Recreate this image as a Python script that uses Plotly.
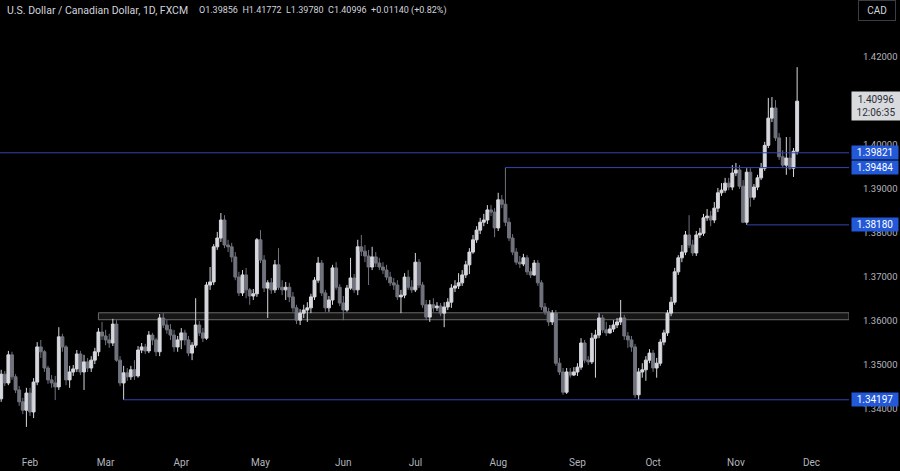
import pandas as pd
import plotly.graph_objects as go

# ---------------- data (USD/CAD daily, FXCM) ----------------
start_date = "2024-01-22"
end_date = "2024-11-26"

opens = [
    1.3422, 1.3478, 1.3458, 1.3522, 1.3472, 1.3442, 1.3415, 1.3396, 1.3435, 1.3392,
    1.3460, 1.3540, 1.3529, 1.3492, 1.3465, 1.3458, 1.3449, 1.3563, 1.3540, 1.3465,
    1.3483, 1.3490, 1.3524, 1.3483, 1.3506, 1.3492, 1.3510, 1.3529, 1.3574, 1.3565,
    1.3556, 1.3549, 1.3592, 1.3510, 1.3458, 1.3481, 1.3472, 1.3488, 1.3474, 1.3533,
    1.3540, 1.3531, 1.3567, 1.3556, 1.3529, 1.3606, 1.3590, 1.3579, 1.3567, 1.3540,
    1.3556, 1.3572, 1.3556, 1.3526, 1.3544, 1.3590, 1.3572, 1.3560, 1.3681, 1.3688,
    1.3768, 1.3788, 1.3829, 1.3772, 1.3768, 1.3745, 1.3699, 1.3663, 1.3704, 1.3670,
    1.3656, 1.3661, 1.3784, 1.3738, 1.3674, 1.3686, 1.3670, 1.3727, 1.3676, 1.3670,
    1.3676, 1.3654, 1.3629, 1.3601, 1.3617, 1.3624, 1.3629, 1.3654, 1.3692, 1.3731,
    1.3663, 1.3629, 1.3647, 1.3720, 1.3676, 1.3640, 1.3624, 1.3674, 1.3697, 1.3670,
    1.3768, 1.3758, 1.3747, 1.3722, 1.3745, 1.3731, 1.3722, 1.3715, 1.3699, 1.3686,
    1.3681, 1.3654, 1.3658, 1.3699, 1.3676, 1.3670, 1.3733, 1.3681, 1.3636, 1.3608,
    1.3636, 1.3629, 1.3633, 1.3617, 1.3631, 1.3642, 1.3674, 1.3679, 1.3686, 1.3704,
    1.3727, 1.3756, 1.3784, 1.3806, 1.3824, 1.3829, 1.3852, 1.3847, 1.3811, 1.3875,
    1.3865, 1.3824, 1.3788, 1.3756, 1.3733, 1.3729, 1.3743, 1.3711, 1.3704, 1.3731,
    1.3686, 1.3631, 1.3620, 1.3597, 1.3617, 1.3503, 1.3483, 1.3437, 1.3483, 1.3476,
    1.3483, 1.3494, 1.3549, 1.3510, 1.3506, 1.3560, 1.3567, 1.3606, 1.3579, 1.3572,
    1.3581, 1.3590, 1.3597, 1.3606, 1.3565, 1.3556, 1.3540, 1.3431, 1.3483, 1.3488,
    1.3510, 1.3526, 1.3492, 1.3503, 1.3551, 1.3572, 1.3617, 1.3642, 1.3711, 1.3743,
    1.3756, 1.3795, 1.3772, 1.3754, 1.3795, 1.3799, 1.3834, 1.3838, 1.3829, 1.3856,
    1.3891, 1.3897, 1.3913, 1.3904, 1.3936, 1.3943, 1.3906, 1.3824, 1.3938, 1.3881,
    1.3904, 1.3925, 1.3947, 1.3999, 1.4061, 1.4084, 1.4016, 1.3973, 1.3954, 1.3970,
    1.3947, 1.39856,
]

highs = [
    1.3488, 1.3485, 1.3531, 1.3529, 1.3478, 1.3451, 1.3424, 1.3447, 1.3447, 1.3469,
    1.3551, 1.3556, 1.3533, 1.3497, 1.3476, 1.3474, 1.3585, 1.3570, 1.3544, 1.3497,
    1.3499, 1.3533, 1.3531, 1.3522, 1.3515, 1.3519, 1.3538, 1.3583, 1.3597, 1.3579,
    1.3570, 1.3604, 1.3601, 1.3519, 1.3497, 1.3492, 1.3497, 1.3510, 1.3542, 1.3549,
    1.3547, 1.3576, 1.3572, 1.3561, 1.3615, 1.3617, 1.3601, 1.3592, 1.3579, 1.3565,
    1.3583, 1.3579, 1.3565, 1.3551, 1.3651, 1.3599, 1.3583, 1.3688, 1.3722, 1.3774,
    1.3802, 1.3845, 1.3840, 1.3784, 1.3777, 1.3756, 1.3711, 1.3715, 1.3720, 1.3674,
    1.3672, 1.3788, 1.3806, 1.3749, 1.3692, 1.3697, 1.3738, 1.3765, 1.3692, 1.3688,
    1.3686, 1.3665, 1.3636, 1.3626, 1.3636, 1.3642, 1.3661, 1.3699, 1.3745, 1.3738,
    1.3670, 1.3656, 1.3727, 1.3733, 1.3683, 1.3656, 1.3681, 1.3743, 1.3706, 1.3784,
    1.3795, 1.3772, 1.3761, 1.3768, 1.3756, 1.3743, 1.3733, 1.3727, 1.3711, 1.3697,
    1.3692, 1.3670, 1.3708, 1.3715, 1.3692, 1.3754, 1.3740, 1.3688, 1.3647, 1.3647,
    1.3651, 1.3642, 1.3640, 1.3642, 1.3651, 1.3683, 1.3692, 1.3708, 1.3715, 1.3736,
    1.3765, 1.3795, 1.3815, 1.3834, 1.3843, 1.3863, 1.3863, 1.3856, 1.3891, 1.3886,
    1.39484, 1.3834, 1.3797, 1.3765, 1.3747, 1.3752, 1.3749, 1.3720, 1.3738, 1.3738,
    1.3692, 1.3640, 1.3629, 1.3624, 1.3624, 1.3515, 1.3492, 1.3492, 1.3492, 1.3494,
    1.3503, 1.3560, 1.3556, 1.3519, 1.3572, 1.3579, 1.3617, 1.3613, 1.3597, 1.3590,
    1.3601, 1.3606, 1.3647, 1.3613, 1.3574, 1.3565, 1.3547, 1.3492, 1.3503, 1.3519,
    1.3535, 1.3533, 1.3515, 1.3558, 1.3579, 1.3624, 1.3654, 1.3720, 1.3749, 1.3772,
    1.3804, 1.3840, 1.3784, 1.3804, 1.3811, 1.3843, 1.3854, 1.3850, 1.3870, 1.3902,
    1.3913, 1.3925, 1.3925, 1.3954, 1.3959, 1.3954, 1.3920, 1.3947, 1.3947, 1.3911,
    1.3932, 1.3959, 1.4007, 1.4107, 1.4109, 1.4102, 1.4027, 1.3988, 1.4018, 1.4018,
    1.3993, 1.41772,
]

lows = [
    1.3415, 1.3451, 1.3453, 1.3465, 1.3435, 1.3406, 1.3387, 1.3358, 1.3383, 1.3378,
    1.3453, 1.3515, 1.3483, 1.3456, 1.3447, 1.3419, 1.3442, 1.3529, 1.3453, 1.3447,
    1.3474, 1.3483, 1.3476, 1.3442, 1.3483, 1.3483, 1.3501, 1.3519, 1.3556, 1.3544,
    1.3538, 1.3542, 1.3506, 1.3451, 1.34197, 1.3463, 1.3465, 1.3465, 1.3470, 1.3526,
    1.3524, 1.3526, 1.3544, 1.3519, 1.3519, 1.3583, 1.3570, 1.3556, 1.3529, 1.3529,
    1.3535, 1.3544, 1.3519, 1.3510, 1.3538, 1.3565, 1.3551, 1.3556, 1.3670, 1.3681,
    1.3761, 1.3779, 1.3765, 1.3756, 1.3733, 1.3692, 1.3656, 1.3656, 1.3651, 1.3636,
    1.3647, 1.3654, 1.3731, 1.3665, 1.3606, 1.3661, 1.3663, 1.3670, 1.3658, 1.3647,
    1.3642, 1.3620, 1.3592, 1.3590, 1.3606, 1.3597, 1.3617, 1.3647, 1.3686, 1.3656,
    1.3620, 1.3620, 1.3636, 1.3670, 1.3633, 1.3601, 1.3620, 1.3670, 1.3663, 1.3658,
    1.3747, 1.3733, 1.3681, 1.3715, 1.3722, 1.3715, 1.3706, 1.3692, 1.3679, 1.3670,
    1.3647, 1.3617, 1.3651, 1.3670, 1.3663, 1.3665, 1.3674, 1.3629, 1.3601, 1.3597,
    1.3620, 1.3622, 1.3610, 1.3585, 1.3624, 1.3629, 1.3665, 1.3672, 1.3679, 1.3697,
    1.3706, 1.3752, 1.3777, 1.3797, 1.3815, 1.3820, 1.3838, 1.3790, 1.3804, 1.3856,
    1.3815, 1.3781, 1.3749, 1.3727, 1.3720, 1.3724, 1.3704, 1.3697, 1.3702, 1.3679,
    1.3624, 1.3613, 1.3588, 1.3590, 1.3497, 1.3476, 1.3431, 1.3433, 1.3470, 1.3474,
    1.3474, 1.3488, 1.3503, 1.3499, 1.3501, 1.3470, 1.3560, 1.3572, 1.3565, 1.3570,
    1.3574, 1.3583, 1.3590, 1.3556, 1.3538, 1.3529, 1.3424, 1.3420, 1.3470, 1.3463,
    1.3503, 1.3483, 1.3470, 1.3497, 1.3544, 1.3565, 1.3610, 1.3636, 1.3704, 1.3733,
    1.3749, 1.3765, 1.3747, 1.3747, 1.3788, 1.3793, 1.3827, 1.3815, 1.3822, 1.3847,
    1.3884, 1.3891, 1.3897, 1.3897, 1.3929, 1.3900, 1.3822, 1.3818, 1.3859, 1.3875,
    1.3897, 1.3920, 1.3941, 1.3993, 1.4052, 1.4009, 1.3966, 1.3947, 1.3932, 1.3943,
    1.3927, 1.39780,
]

closes = [
    1.3478, 1.3458, 1.3522, 1.3472, 1.3442, 1.3415, 1.3396, 1.3435, 1.3392, 1.3460,
    1.3540, 1.3529, 1.3492, 1.3465, 1.3458, 1.3449, 1.3563, 1.3540, 1.3465, 1.3483,
    1.3490, 1.3524, 1.3483, 1.3506, 1.3492, 1.3510, 1.3529, 1.3574, 1.3565, 1.3556,
    1.3549, 1.3592, 1.3510, 1.3458, 1.3481, 1.3472, 1.3488, 1.3474, 1.3533, 1.3540,
    1.3531, 1.3567, 1.3556, 1.3529, 1.3606, 1.3590, 1.3579, 1.3567, 1.3540, 1.3556,
    1.3572, 1.3556, 1.3526, 1.3544, 1.3590, 1.3572, 1.3560, 1.3681, 1.3688, 1.3768,
    1.3788, 1.3829, 1.3772, 1.3768, 1.3745, 1.3699, 1.3663, 1.3704, 1.3670, 1.3656,
    1.3661, 1.3784, 1.3738, 1.3674, 1.3686, 1.3670, 1.3727, 1.3676, 1.3670, 1.3676,
    1.3654, 1.3629, 1.3601, 1.3617, 1.3624, 1.3629, 1.3654, 1.3692, 1.3731, 1.3663,
    1.3629, 1.3647, 1.3720, 1.3676, 1.3640, 1.3624, 1.3674, 1.3697, 1.3670, 1.3768,
    1.3758, 1.3747, 1.3722, 1.3745, 1.3731, 1.3722, 1.3715, 1.3699, 1.3686, 1.3681,
    1.3654, 1.3658, 1.3699, 1.3676, 1.3670, 1.3733, 1.3681, 1.3636, 1.3608, 1.3636,
    1.3629, 1.3633, 1.3617, 1.3631, 1.3642, 1.3674, 1.3679, 1.3686, 1.3704, 1.3727,
    1.3756, 1.3784, 1.3806, 1.3824, 1.3829, 1.3852, 1.3847, 1.3811, 1.3875, 1.3865,
    1.3824, 1.3788, 1.3756, 1.3733, 1.3729, 1.3743, 1.3711, 1.3704, 1.3731, 1.3686,
    1.3631, 1.3620, 1.3597, 1.3617, 1.3503, 1.3483, 1.3437, 1.3483, 1.3476, 1.3483,
    1.3494, 1.3549, 1.3510, 1.3506, 1.3560, 1.3567, 1.3606, 1.3579, 1.3572, 1.3581,
    1.3590, 1.3597, 1.3606, 1.3565, 1.3556, 1.3540, 1.3431, 1.3483, 1.3488, 1.3510,
    1.3526, 1.3492, 1.3503, 1.3551, 1.3572, 1.3617, 1.3642, 1.3711, 1.3743, 1.3756,
    1.3795, 1.3772, 1.3754, 1.3795, 1.3799, 1.3834, 1.3838, 1.3829, 1.3856, 1.3891,
    1.3897, 1.3913, 1.3904, 1.3936, 1.3943, 1.3906, 1.3824, 1.3938, 1.3881, 1.3904,
    1.3925, 1.3947, 1.3999, 1.4061, 1.4084, 1.4016, 1.3973, 1.3954, 1.3970, 1.3947,
    1.39856, 1.40996,
]

price_ticks = [1.34, 1.35, 1.36, 1.37, 1.38, 1.39, 1.40, 1.41, 1.42]

# drawn levels: price and the bar index where each line begins
level_prices = [1.39821, 1.39484, 1.38180, 1.34197]
level_start_bar = [0, 140, 207, 34]
zone_low, zone_high, zone_start_bar = 1.36020, 1.36178, 27

title_text = "U.S. Dollar / Canadian Dollar, 1D, FXCM"
ohlc_text = ("O1.39856&nbsp;&nbsp;H1.41772&nbsp;&nbsp;L1.39780&nbsp;&nbsp;C1.40996"
             "&nbsp;&nbsp;+0.01140 (+0.82%)")
last_price_text = "1.40996<br>12:06:35"
last_price = 1.40996

# ---------------- build ----------------
n = min(len(opens), len(highs), len(lows), len(closes))
x = list(range(n))

ext = pd.bdate_range(start_date, "2024-12-31")
month_idx, month_lbl = [], []
prev = None
for i, d in enumerate(ext):
    if d.month != prev:
        if i > 0:
            month_idx.append(i)
            month_lbl.append(d.strftime("%b"))
        prev = d.month

FONT = "Roboto, sans-serif"
UP = "#d6d8de"
DOWN = "#70737d"
BLUE_LINE = "#3344b0"
BLUE_BOX = "#2358d8"
PLOT_W = 849

fig = go.Figure()
fig.add_trace(go.Candlestick(
    x=x, open=opens[:n], high=highs[:n], low=lows[:n], close=closes[:n],
    increasing=dict(fillcolor=UP, line=dict(color=UP, width=1)),
    decreasing=dict(fillcolor=DOWN, line=dict(color=DOWN, width=1)),
    whiskerwidth=0, hoverinfo="skip",
))

x_max = 235.4
shapes = []
shapes.append(dict(type="rect", xref="x", yref="y", x0=zone_start_bar, x1=x_max,
                   y0=zone_low, y1=zone_high, fillcolor="#161616",
                   line=dict(color="#6a6a6a", width=1), layer="below"))
for p, s in zip(level_prices, level_start_bar):
    shapes.append(dict(type="line", xref="x", yref="y", x0=s if s > 0 else -1, x1=x_max,
                       y0=p, y1=p, line=dict(color=BLUE_LINE, width=1)))

annotations = []
for p in level_prices:
    annotations.append(dict(xref="paper", yref="y", x=1, y=p, xanchor="left", yanchor="middle",
                            xshift=2, text=f"{p:.5f}", showarrow=False,
                            bgcolor=BLUE_BOX, font=dict(family=FONT, size=10, color="#ffffff"),
                            borderpad=1, width=44))
annotations.append(dict(xref="paper", yref="y", x=1, y=last_price, xanchor="left", yanchor="middle",
                        xshift=2, yshift=-5, text=last_price_text, showarrow=False,
                        bgcolor="#d9dadd", font=dict(family=FONT, size=10, color="#2a2e39"),
                        borderpad=2, width=44))
annotations.append(dict(xref="paper", yref="paper", x=0, y=1, xanchor="left", yanchor="top",
                        xshift=5, yshift=-2, text=title_text, showarrow=False,
                        font=dict(family=FONT, size=10.5, color="#d1d4dc")))
annotations.append(dict(xref="paper", yref="paper", x=197 / PLOT_W, y=1, xanchor="left", yanchor="top",
                        yshift=-3, text=ohlc_text, showarrow=False,
                        font=dict(family=FONT, size=9, color="#d1d4dc")))
annotations.append(dict(xref="paper", yref="paper", x=1, y=1, xanchor="left", yanchor="top",
                        xshift=9, yshift=0, text="CAD", showarrow=False,
                        bgcolor="#000000", bordercolor="#3a3d46", borderwidth=1, borderpad=4,
                        width=28, font=dict(family=FONT, size=10, color="#d1d4dc")))

fig.update_layout(
    width=900, height=471,
    margin=dict(l=0, r=900 - PLOT_W, t=0, b=28),
    paper_bgcolor="#000000", plot_bgcolor="#000000",
    showlegend=False, boxgap=0.12, boxgroupgap=0.08,
    shapes=shapes, annotations=annotations,
    xaxis=dict(range=[-0.33, x_max], showgrid=False, zeroline=False, showline=False,
               tickvals=month_idx, ticktext=month_lbl, ticks="",
               tickfont=dict(family=FONT, size=10, color="#b2b5be"),
               rangeslider=dict(visible=False), ticklabelstandoff=12),
    yaxis=dict(range=[1.33213, 1.4330], side="right", showgrid=False, zeroline=False,
               showline=False, tickvals=price_ticks, ticktext=[f"{v:.5f}" for v in price_ticks],
               ticks="", tickfont=dict(family=FONT, size=9.5, color="#b2b5be"),
               ticklabelstandoff=13),
)

fig.write_html("out.html", config={"displayModeBar": False},
               post_script="document.body.style.margin='0';document.body.style.background='#000';")
